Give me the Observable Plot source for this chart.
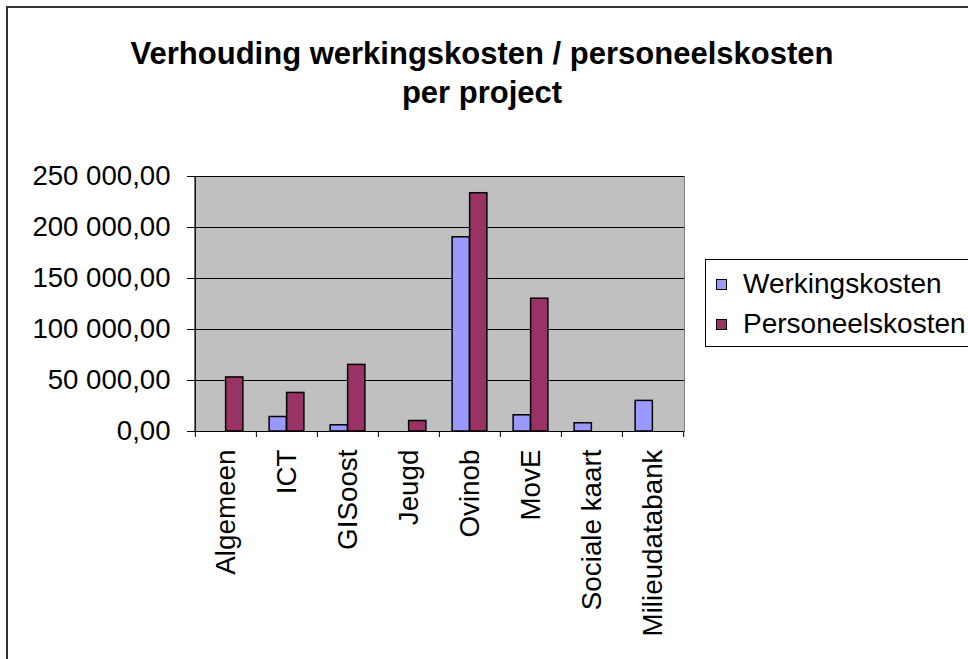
<!DOCTYPE html>
<html><head><meta charset="utf-8">
<script src="https://cdn.jsdelivr.net/npm/d3@7"></script>
<script src="https://cdn.jsdelivr.net/npm/@observablehq/plot@0.6"></script>
<style>
body{margin:0;background:#fff;}
#chart{position:relative;width:968px;height:659px;overflow:hidden;font-family:"Liberation Sans",Arial,sans-serif;color:#000;}
#chart svg{position:absolute;left:0;top:0;}
#border{position:absolute;left:6px;top:6px;width:1100px;height:800px;border:2px solid #333;box-sizing:border-box;}
#title{position:absolute;left:0;top:34px;width:964px;text-align:center;font-weight:bold;font-size:31px;line-height:39px;}
#legend{position:absolute;left:705px;top:259px;width:400px;height:88px;border:1px solid #000;box-sizing:border-box;background:#fff;}
.item{position:absolute;left:0;height:28px;font-size:28px;line-height:28px;white-space:nowrap;}
.sw{position:absolute;left:10px;width:11px;height:11px;border:1px solid #000;box-sizing:border-box;}
.lbl{position:absolute;left:37px;top:0;}
</style></head><body><div id="chart"><div id="border"></div></div><script>
const categories = ["Algemeen","ICT","GISoost","Jeugd","Ovinob","MovE","Sociale kaart","Milieudatabank"];
const seriesNames = ["Werkingskosten","Personeelskosten"];
const seriesColors = ["#9999FF","#993366"];
const werkingskosten = [null,14200,6100,null,190400,15900,8100,30000];
const personeelskosten = [53000,37800,65300,10300,233600,130200,null,null];
const yTicks = [0,50000,100000,150000,200000,250000];
const titleLines = ["Verhouding werkingskosten / personeelskosten","per project"];

const W=968,H=659,mL=194,mR=284,mT=176,mB=228;
const bw=(W-mL-mR)/categories.length, u=bw/7;
const rows = vals => categories.map((c,i)=>({cat:c,value:vals[i]})).filter(d=>d.value!=null);
const fmt = v => d3.format(",.2f")(v).replace(/,/g," ").replace(".",",");
const last = categories[categories.length-1];

const plot = Plot.plot({
  width:W,height:H,marginLeft:mL,marginRight:mR,marginTop:mT,marginBottom:mB,
  style:{fontFamily:'"Liberation Sans", Arial, sans-serif',background:"transparent",color:"#000"},
  x:{type:"band",domain:categories,padding:0,axis:null,label:null},
  y:{domain:[0,250000],axis:null,label:null},
  marks:[
    Plot.frame({fill:"#c0c0c0",stroke:"#808080"}),
    Plot.ruleY(yTicks,{stroke:"#000",strokeWidth:1}),
    Plot.barY(rows(werkingskosten),{x:"cat",y:"value",fill:seriesColors[0],stroke:"#000",strokeWidth:1.5,insetLeft:1.5*u,insetRight:3.5*u}),
    Plot.barY(rows(personeelskosten),{x:"cat",y:"value",fill:seriesColors[1],stroke:"#000",strokeWidth:1.5,insetLeft:3.5*u,insetRight:1.5*u}),
    Plot.ruleX([categories[0]],{stroke:"#000",dx:-bw/2}),
    Plot.axisY({ticks:yTicks,tickSize:7,tickPadding:17,tickFormat:fmt,fontSize:27.6,label:null}),
    Plot.axisX({tickSize:6,tickFormat:()=>"",dx:-bw/2,label:null}),
    Plot.axisX({ticks:[last],tickSize:6,tickFormat:()=>"",dx:bw/2,label:null}),
    Plot.axisX({tickSize:0,tickPadding:18,tickRotate:-90,fontSize:27.8,label:null})
  ]
});
const chart=document.getElementById("chart");
chart.appendChild(plot);

const t=document.createElement("div");t.id="title";
t.innerHTML=titleLines.join("<br>");chart.appendChild(t);

const lg=document.createElement("div");lg.id="legend";
seriesNames.forEach((n,i)=>{
  const it=document.createElement("div");it.className="item";it.style.top=(10+i*40.3)+"px";
  const sw=document.createElement("div");sw.className="sw";sw.style.background=seriesColors[i];sw.style.top="8.5px";
  const lb=document.createElement("div");lb.className="lbl";lb.textContent=n;
  it.appendChild(sw);it.appendChild(lb);lg.appendChild(it);
});
chart.appendChild(lg);
</script></body></html>
